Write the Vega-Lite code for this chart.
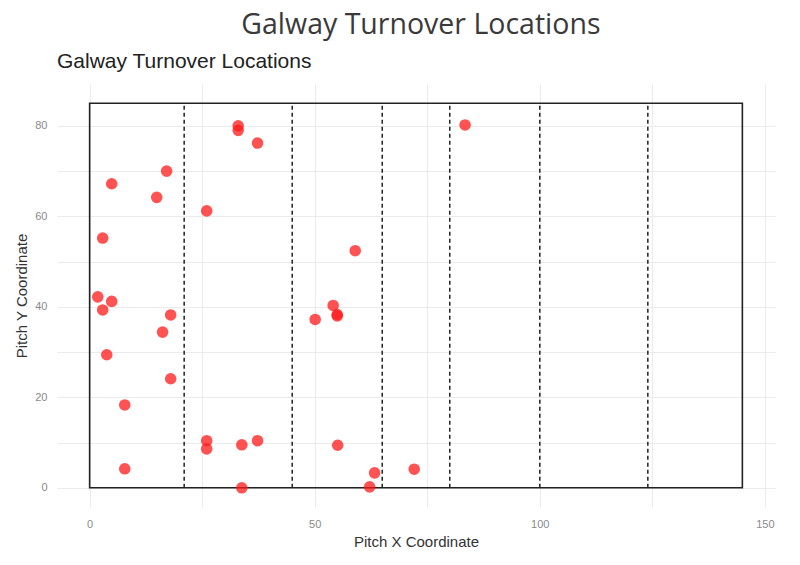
{
  "$schema": "https://vega.github.io/schema/vega-lite/v6.json",
  "background": "white",
  "padding": {"left": 14, "top": 10, "right": 10, "bottom": 5},
  "title": {
    "text": "Galway Turnover Locations",
    "anchor": "middle",
    "fontSize": 28.5,
    "fontWeight": "normal",
    "font": "Open Sans",
    "color": "#3a3a3a",
    "dx": 26,
    "offset": 12
  },
  "datasets": {
    "turnovers": [
      {"x": 33, "y": 80}, {"x": 33, "y": 79}, {"x": 37.3, "y": 76.2}, {"x": 83.4, "y": 80.2},
      {"x": 4.9, "y": 67.2}, {"x": 17.1, "y": 70}, {"x": 14.9, "y": 64.2}, {"x": 26, "y": 61.2},
      {"x": 2.9, "y": 55.2}, {"x": 59, "y": 52.4}, {"x": 1.8, "y": 42.2}, {"x": 4.9, "y": 41.2},
      {"x": 2.9, "y": 39.3}, {"x": 18, "y": 38.2}, {"x": 16.2, "y": 34.4}, {"x": 3.8, "y": 29.4},
      {"x": 18, "y": 24.1}, {"x": 7.8, "y": 18.3}, {"x": 7.8, "y": 4.2}, {"x": 26, "y": 10.4},
      {"x": 26, "y": 8.6}, {"x": 33.8, "y": 9.5}, {"x": 37.3, "y": 10.4}, {"x": 33.8, "y": 0},
      {"x": 54.1, "y": 40.3}, {"x": 55, "y": 38.3}, {"x": 55, "y": 38}, {"x": 50.1, "y": 37.2},
      {"x": 55.1, "y": 9.4}, {"x": 63.3, "y": 3.3}, {"x": 62.2, "y": 0.2}, {"x": 72.1, "y": 4.1}
    ],
    "lines": [
      {"x": 21}, {"x": 45}, {"x": 65}, {"x": 80}, {"x": 100}, {"x": 124}
    ],
    "pitch": [
      {"x0": 0, "x1": 145, "y0": 0, "y1": 85}
    ]
  },
  "vconcat": [
    {
      "title": {
        "text": "Galway Turnover Locations",
        "anchor": "start",
        "frame": "group",
        "fontSize": 21,
        "fontWeight": "normal",
        "font": "Liberation Sans",
        "color": "#222222",
        "offset": 12
      },
      "width": 718,
      "height": 423,
      "layer": [
        {
          "data": {"name": "pitch"},
          "mark": {"type": "rect", "fill": null, "stroke": "#222222", "strokeWidth": 1.6},
          "encoding": {
            "x": {
              "field": "x0", "type": "quantitative",
              "scale": {"domain": [-7.25, 152.25], "nice": false, "zero": false},
              "axis": {
                "title": "Pitch X Coordinate",
                "values": [0, 25, 50, 75, 100, 125, 150],
                "labelExpr": "datum.value % 50 == 0 ? datum.label : ''"
              }
            },
            "x2": {"field": "x1"},
            "y": {
              "field": "y0", "type": "quantitative",
              "scale": {"domain": [-4.25, 89.25], "nice": false, "zero": false},
              "axis": {
                "title": "Pitch Y Coordinate",
                "values": [0, 10, 20, 30, 40, 50, 60, 70, 80],
                "labelExpr": "datum.value % 20 == 0 ? datum.label : ''"
              }
            },
            "y2": {"field": "y1"}
          }
        },
        {
          "data": {"name": "lines"},
          "mark": {"type": "rule", "color": "#222222", "strokeWidth": 1.5, "strokeDash": [4, 3]},
          "encoding": {
            "x": {"field": "x", "type": "quantitative"},
            "y": {"datum": 0, "type": "quantitative"},
            "y2": {"datum": 85}
          }
        },
        {
          "data": {"name": "turnovers"},
          "mark": {"type": "circle", "size": 135, "color": "#ff1a1a", "opacity": 0.75},
          "encoding": {
            "x": {"field": "x", "type": "quantitative"},
            "y": {"field": "y", "type": "quantitative"}
          }
        }
      ]
    }
  ],
  "config": {
    "view": {"stroke": null},
    "axis": {
      "domain": false,
      "ticks": false,
      "grid": true,
      "gridColor": "#ebebeb",
      "gridWidth": 1,
      "labelFont": "Liberation Sans",
      "labelFontSize": 11,
      "labelColor": "#8a8a8a",
      "titleFont": "Liberation Sans",
      "titleFontSize": 15,
      "titleFontWeight": "normal",
      "titleColor": "#333333"
    },
    "axisX": {"labelPadding": 11, "titlePadding": 5},
    "axisY": {"labelPadding": 10, "titlePadding": 5}
  }
}
